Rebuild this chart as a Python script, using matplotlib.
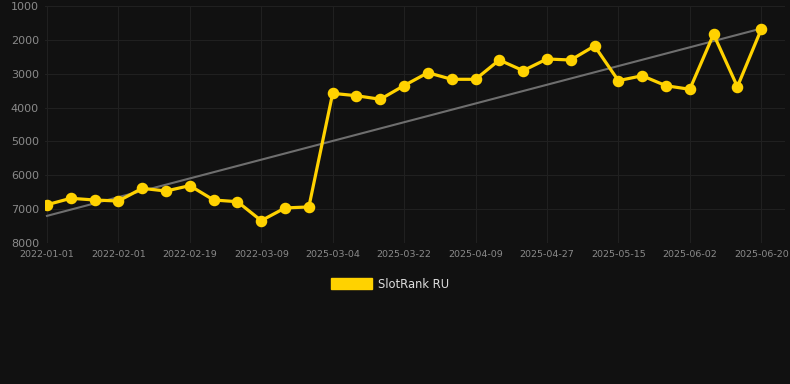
import numpy as np
from matplotlib import pyplot as plt
from matplotlib.patches import Patch

dates = ['2022-01-01', '2022-01-11', '2022-01-21', '2022-02-01', '2022-02-07', '2022-02-13',
         '2022-02-19', '2022-02-25', '2022-03-03', '2022-03-09', '2022-03-15', '2022-03-21',
         '2025-03-04', '2025-03-10', '2025-03-16', '2025-03-22', '2025-03-28', '2025-04-03',
         '2025-04-09', '2025-04-15', '2025-04-21', '2025-04-27', '2025-05-03', '2025-05-09',
         '2025-05-15', '2025-05-21', '2025-05-27', '2025-06-02', '2025-06-08', '2025-06-14',
         '2025-06-20']
ranks = [6870, 6680, 6730, 6760, 6385, 6465, 6305, 6730, 6780, 7340, 6965, 6935,
         3580, 3650, 3755, 3350, 2970, 3165, 3165, 2595, 2910, 2565, 2595, 2180,
         3205, 3060, 3355, 3460, 1835, 3385, 1690]
y_ticks = [1000, 2000, 3000, 4000, 5000, 6000, 7000, 8000]

bg = '#111111'
gold = '#ffd200'

fig = plt.figure(figsize=(7.9, 3.84), dpi=100, facecolor=bg)
ax = fig.add_axes([44.6 / 790, 1 - 243 / 384, (785 - 44.6) / 790, 237 / 384], facecolor=bg)

# trend line (least squares over the points)
x = np.arange(len(dates))
slope, icpt = np.polyfit(x, ranks, 1)
ax.plot(x, slope * x + icpt, color='#6e6e6e', lw=1.5, zorder=2)
ax.plot(x, ranks, color=gold, lw=2.3, marker='o', ms=7.3, zorder=3)

ax.set_ylim(8000, 1000)
ax.set_yticks(y_ticks)
ax.set_xlim(-0.1, 31.0)
ax.set_xticks(x[::3])
ax.set_xticklabels(dates[::3])
ax.grid(True, color='#202020', lw=0.8)
ax.set_axisbelow(True)
for s in ax.spines.values():
    s.set_visible(False)
ax.tick_params(axis='both', length=0, colors='#8a8a8a')
ax.tick_params(axis='y', labelsize=8, pad=4)
ax.tick_params(axis='x', labelsize=6.8, pad=5)

fig.legend(handles=[Patch(facecolor=gold, edgecolor=gold)], labels=['SlotRank RU'],
           loc='center', bbox_to_anchor=(390 / 790, 1 - 284 / 384), frameon=False,
           handlelength=3.6, handleheight=1.0, handletextpad=0.5,
           labelcolor='#dddddd', fontsize=8.3)

fig.savefig('out.png', dpi=100, facecolor=bg)
